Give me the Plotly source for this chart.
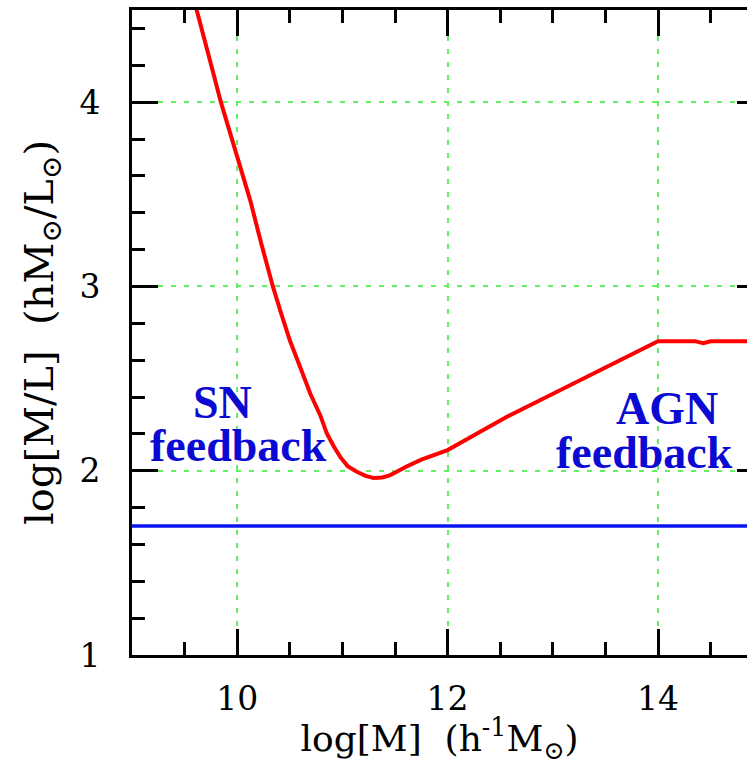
import plotly.graph_objects as go

# Mass-to-light ratio of haloes versus halo mass
log_mass = [9.55, 9.617, 9.73, 9.845, 10.006, 10.124, 10.23, 10.339, 10.42, 10.5,
            10.6, 10.694, 10.79, 10.852, 10.92, 10.979, 11.05, 11.137, 11.22, 11.295,
            11.38, 11.45, 11.517, 11.6, 11.75, 12.0, 12.31, 12.5, 12.56, 12.94,
            13.2, 13.45, 13.54, 14.0, 14.35, 14.43, 14.5, 14.9]
log_ml = [4.64, 4.50, 4.25, 4.00, 3.684, 3.467, 3.23, 3.00, 2.85, 2.708,
          2.56, 2.419, 2.30, 2.202, 2.13, 2.075, 2.025, 1.994, 1.972, 1.961,
          1.963, 1.975, 1.994, 2.02, 2.06, 2.112, 2.211, 2.274, 2.292, 2.40,
          2.475, 2.546, 2.573, 2.703, 2.703, 2.692, 2.702, 2.703]

# Universal baryon-fraction reference level
ref_x = [8.5, 15.5]
ref_ml = [1.7, 1.7]

x_ticks = [10, 12, 14]
y_ticks = [1, 2, 3, 4]

labels = [
    ("SN", 9.857, 2.372),
    ("feedback", 10.01, 2.135),
    ("AGN", 14.09, 2.34),
    ("feedback", 13.87, 2.10),
]

axis_font = dict(family="DejaVu Serif", size=33, color="black")
title_font = dict(family="DejaVu Serif", size=36, color="black")
label_font = dict(family="Liberation Serif", size=46, color="#0a0ad2", weight="bold")
grid_col = "#62f062"

fig = go.Figure()
fig.add_trace(go.Scatter(x=ref_x, y=ref_ml, mode="lines",
                         line=dict(color="#0a14f5", width=3.5), hoverinfo="skip"))
fig.add_trace(go.Scatter(x=log_mass, y=log_ml, mode="lines",
                         line=dict(color="#ff0000", width=4), hoverinfo="skip"))
# empty trace carrying the right-hand tick axis
fig.add_trace(go.Scatter(x=[None], y=[None], yaxis="y2", hoverinfo="skip"))

for text, x, y in labels:
    fig.add_annotation(text=text, x=x, y=y, xref="x", yref="y", showarrow=False,
                       font=label_font, xanchor="center", yanchor="middle")

fig.update_layout(
    width=747, height=765,
    margin=dict(l=132, r=0, t=10, b=110),
    paper_bgcolor="white", plot_bgcolor="white",
    showlegend=False,
    xaxis=dict(
        range=[9, 14.846], tickvals=x_ticks, ticks="inside", ticklen=26, tickwidth=2.5,
        tickcolor="black", showline=True, linewidth=3, linecolor="black", mirror="ticks",
        showgrid=True, gridcolor=grid_col, gridwidth=1.5, griddash="5px,8px",
        zeroline=False, tickfont=axis_font, ticklabelstandoff=12,
        minor=dict(dtick=0.5, tick0=9, ticks="inside", ticklen=13, tickwidth=2.5,
                   tickcolor="black", showgrid=False),
        title=dict(text="log[M]  (h<sup>-1</sup>M<sub>⊙</sub>)",
                   font=title_font, standoff=10),
    ),
    yaxis=dict(
        range=[1, 4.5], tickvals=y_ticks, ticks="inside", ticklen=26, tickwidth=2.5,
        tickcolor="black", showline=True, linewidth=3, linecolor="black", mirror=False,
        showgrid=True, gridcolor=grid_col, gridwidth=1.5, griddash="5px,8px",
        zeroline=False, tickfont=axis_font, ticklabelstandoff=22,
        minor=dict(dtick=0.2, tick0=1, ticks="inside", ticklen=13, tickwidth=2.5,
                   tickcolor="black", showgrid=False),
        title=dict(text="log[M/L]  (hM<sub>⊙</sub>/L<sub>⊙</sub>)",
                   font=dict(family="DejaVu Serif", size=40, color="black"), standoff=14),
    ),
    yaxis2=dict(
        range=[1, 4.5], tickvals=y_ticks, overlaying="y", side="right", ticks="inside",
        ticklen=10, tickwidth=2.5, tickcolor="black", showline=False, showgrid=False,
        showticklabels=False, zeroline=False,
    ),
)

fig.write_html("out.html")
